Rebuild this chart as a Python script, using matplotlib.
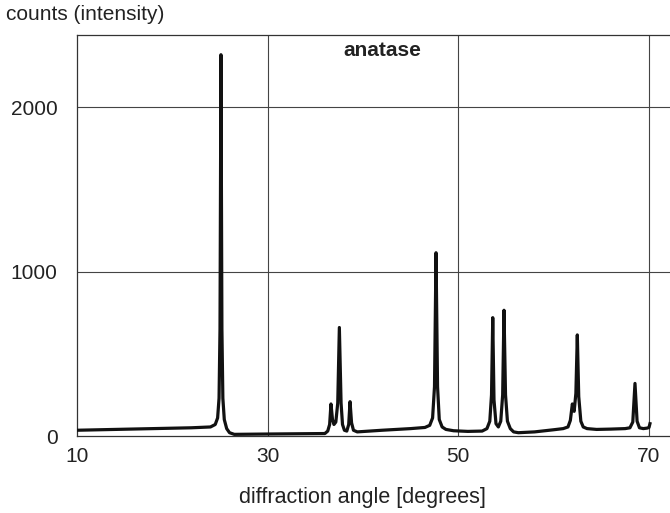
import matplotlib
matplotlib.use("Agg")
import matplotlib.pyplot as plt

# diffraction angle (degrees) and counts
angle = [10.0, 14.0, 18.0, 22.0, 24.0, 24.5, 24.75, 24.9, 25.0, 25.1, 25.2, 25.3, 25.45, 25.7,
         26.0, 26.5, 30.0, 34.0, 36.0, 36.3, 36.5, 36.64, 36.8, 36.95, 37.15, 37.35, 37.52, 37.7,
         37.85, 38.05, 38.3, 38.5, 38.64, 38.8, 39.0, 39.4, 42.0, 45.0, 46.5, 47.0, 47.3, 47.5,
         47.66, 47.82, 48.0, 48.3, 48.7, 49.5, 51.0, 52.5, 53.0, 53.3, 53.48, 53.61, 53.74,
         53.95, 54.2, 54.45, 54.65, 54.79, 54.95, 55.15, 55.45, 55.8, 56.3, 58.0, 60.0, 61.0,
         61.5, 61.75, 61.96, 62.15, 62.33, 62.48, 62.63, 62.85, 63.1, 63.5, 64.5, 66.0, 67.5,
         68.0, 68.3, 68.53, 68.75, 69.0, 69.4, 69.8, 70.0, 70.1]
counts = [35, 40, 45, 50, 55, 70, 110, 230, 650, 2320, 650, 230, 100, 45,
          20, 10, 12, 14, 15, 30, 70, 195, 100, 70, 85, 200, 660, 200,
          70, 35, 30, 70, 209, 80, 35, 25, 35, 45, 52, 65, 110, 300,
          1115, 300, 100, 55, 40, 32, 28, 30, 45, 90, 250, 720, 220,
          75, 55, 90, 250, 765, 250, 90, 45, 25, 20, 25, 38, 45,
          55, 95, 195, 150, 260, 615, 240, 90, 55, 45, 40, 42, 45,
          50, 85, 320, 90, 50, 45, 48, 52, 75]

xticks = [10, 30, 50, 70]
yticks = [0, 1000, 2000]
x_grid = [30, 50, 70]
y_grid = [1000, 2000]

plt.rcParams['font.family'] = ['Liberation Sans', 'DejaVu Sans']

fig = plt.figure(figsize=(6.70, 5.13), dpi=100)
px_per_deg = (649 - 77) / 60.0
xmax = 72.5
ax = fig.add_axes([77/670, 1 - 436/513, (xmax - 10) * px_per_deg / 670, (436 - 35)/513])
ax.set_xlim(10, xmax)
ax.set_ylim(0, 2440)

for xv in x_grid:
    ax.axvline(xv, color='#444444', lw=0.8, zorder=1)
for yv in y_grid:
    ax.axhline(yv, color='#444444', lw=0.8, zorder=1)

ax.plot(angle, counts, color='#111111', lw=2.3, solid_joinstyle='round', zorder=3)

ax.set_xticks(xticks)
ax.set_yticks(yticks)
ax.tick_params(length=0, labelsize=15, colors='#222222', pad=8)
ax.tick_params(axis='y', pad=14)
for s in ['left', 'top', 'bottom']:
    ax.spines[s].set_color('#333333')
    ax.spines[s].set_linewidth(0.9)
ax.spines['right'].set_visible(False)

fig.text(382/670, 1 - 50/513, 'anatase', ha='center', va='center',
         fontsize=15, fontweight='bold', color='#222222')
fig.text(6/670, 1 - 15/513, 'counts (intensity)', ha='left', va='center', fontsize=15, color='#222222')
fig.text(362/670, 1 - 497/513, 'diffraction angle [degrees]', ha='center', va='center', fontsize=15.5,
         color='#222222')

fig.savefig('out.png', dpi=100)
